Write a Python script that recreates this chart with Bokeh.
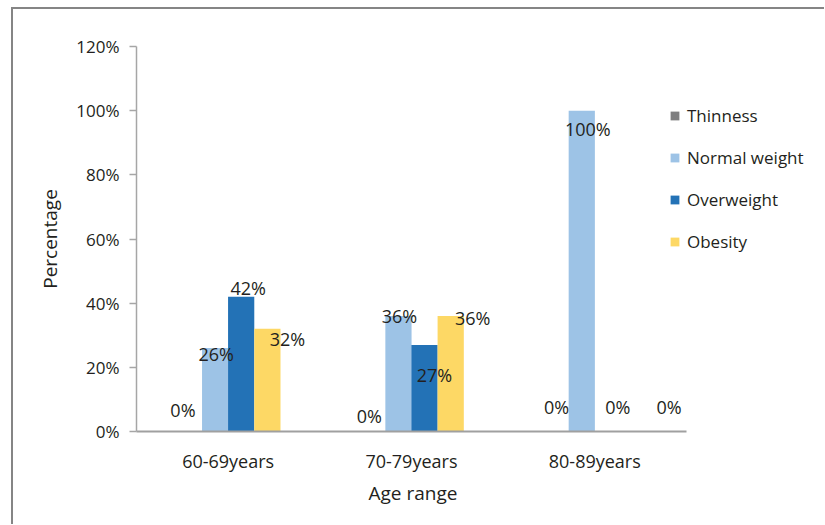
from bokeh.plotting import figure
from bokeh.models import ColumnDataSource, Range1d, FixedTicker, Legend, LegendItem, Title
from bokeh.transform import dodge
from bokeh.embed import file_html
from bokeh.resources import INLINE
from bokeh.core.properties import value

# ---- data ----
age_ranges = ["60-69years", "70-79years", "80-89years"]
thinness = [0, 0, 0]
normal_weight = [26, 36, 100]
overweight = [42, 27, 0]
obesity = [32, 36, 0]
series_names = ["Thinness", "Normal weight", "Overweight", "Obesity"]
y_ticks = [0, 20, 40, 60, 80, 100, 120]
x_title = "Age range"
y_title = "Percentage"

# ---- styles ----
colors = ["#7f7f80", "#9dc3e6", "#2372b6", "#fdd865"]
bar_offsets = [-0.214, -0.071, 0.071, 0.214]
bar_width = 0.143
X_END = 3.764  # leaves room to the right of the categories for the legend
# label nudges in pixels (dx, dy) per series, per category
label_dx = [[-6, -3, 1], [1, 1, 6], [7, 10, 10], [20, 22, 35]]
label_dy = [[-22, -16, -25], [6, 0, 18], [-9, 30, -25], [10, 2, -25]]
FONT = "Open Sans"
TXT = "#231f20"

series_values = [thinness, normal_weight, overweight, obesity]
xpos = [i + 0.5 for i in range(len(age_ranges))]

p = figure(
    x_range=Range1d(0, X_END),
    y_range=Range1d(0, 120),
    width=813, height=517,
    output_backend="svg", toolbar_location=None,
    min_border_left=123, min_border_right=0,
    min_border_top=37, min_border_bottom=95,
)
p.styles = {
    "margin-left": "11px", "margin-top": "7px",
    "border-left": "2px solid #858585", "border-top": "2px solid #858585",
}
p.outline_line_color = None
p.xgrid.grid_line_color = None
p.ygrid.grid_line_color = None
p.background_fill_color = "white"
p.border_fill_color = "white"

sources = []
legend_items = []
for i, (name, vals) in enumerate(zip(series_names, series_values)):
    src = ColumnDataSource(dict(
        x=xpos, cat=age_ranges, val=vals,
        lab=[f"{v}%" for v in vals],
        dx=label_dx[i], dy=label_dy[i],
    ))
    sources.append(src)
    r = p.vbar(x=dodge("x", bar_offsets[i]), top="val",
               width=bar_width, source=src, fill_color=colors[i], line_color=None)
    legend_items.append(LegendItem(label=name, renderers=[r]))

for i, src in enumerate(sources):
    p.text(x=dodge("x", bar_offsets[i]), y="val", text="lab",
           x_offset="dx", y_offset="dy", source=src,
           text_align="center", text_baseline="middle",
           text_font=value(FONT), text_font_size="18px", text_color=TXT)

legend = Legend(items=legend_items, location=(533, 178),
                glyph_width=11, glyph_height=11, label_standoff=7,
                spacing=19, padding=0, margin=0, label_height=20,
                border_line_color=None, background_fill_alpha=0,
                label_text_font=FONT, label_text_font_size="17px",
                label_text_color=TXT)
p.add_layout(legend, "center")

# y axis
p.yaxis.ticker = FixedTicker(ticks=y_ticks)
p.yaxis.major_label_overrides = {t: f"{t}%" for t in y_ticks}
p.yaxis.axis_line_color = "#a6a6a6"
p.yaxis.axis_line_width = 1.5
p.yaxis.major_tick_line_color = "#a6a6a6"
p.yaxis.major_tick_line_width = 1.5
p.yaxis.major_tick_out = 7
p.yaxis.major_tick_in = 0
p.yaxis.minor_tick_line_color = None
p.yaxis.major_label_text_font = FONT
p.yaxis.major_label_text_font_size = "17px"
p.yaxis.major_label_text_color = TXT
p.yaxis.major_label_standoff = 10
p.yaxis.axis_label = y_title
p.yaxis.axis_label_text_font = FONT
p.yaxis.axis_label_text_font_size = "19px"
p.yaxis.axis_label_text_font_style = "normal"
p.yaxis.axis_label_text_color = TXT
p.yaxis.axis_label_standoff = 10

# x axis (categorical labels on a numeric scale)
p.xaxis.ticker = FixedTicker(ticks=xpos)
p.xaxis.major_label_overrides = {x: c for x, c in zip(xpos, age_ranges)}
p.xaxis.bounds = (0, len(age_ranges))
p.xaxis.axis_line_color = "#a0a0a0"
p.xaxis.axis_line_width = 2
p.xaxis.major_tick_line_color = None
p.xaxis.minor_tick_line_color = None
p.xaxis.major_label_text_font = FONT
p.xaxis.major_label_text_font_size = "18px"
p.xaxis.major_label_text_color = TXT
p.xaxis.major_label_standoff = 11

# x-axis title centred under the categories
xt = Title(text=x_title, align="left", offset=232, standoff=4,
           text_font=FONT, text_font_size="19px", text_font_style="normal",
           text_color=TXT)
p.add_layout(xt, "below")

open("out.html", "w").write(file_html(p, INLINE))
